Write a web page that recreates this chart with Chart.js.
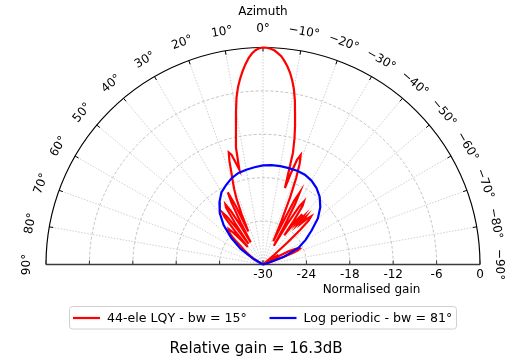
<!DOCTYPE html>
<html>
<head>
<meta charset="utf-8">
<script src="https://cdn.jsdelivr.net/npm/chart.js@4"></script>
<style>
  html, body { margin: 0; padding: 0; background: #fff; }
</style>
</head>
<body>
<canvas id="chart" width="520" height="359"></canvas>
<script>
// azimuth in degrees, positive to the left; gain in dB normalised to the yagi peak
var yagiStart = -90; // 1 degree steps
var yagiGain = [
  -36, -35, -34, -33.5, -33, -32.5, -32, -31.8, -31.5, -31.5,
  -31.2, -31, -31, -30.8, -30.5, -30.6, -31, -31.5, -31, -29,
  -27, -25.6, -24.8, -24.5, -24.5, -24.7, -25.2, -26, -27.5, -30,
  -31, -28.5, -27.5, -28.5, -31, -32, -30.5, -29, -29.5, -31,
  -30.5, -28, -25.5, -23, -21.2, -20.6, -21.2, -22.2, -21.2, -22.6,
  -21.4, -22.6, -21.2, -22.5, -25, -22.5, -20.2, -19.6, -20.5, -23.5,
  -27, -24, -20.5, -18.8, -20.2, -24, -26.5, -23.5, -20, -17.2,
  -15.2, -14, -14.8, -16.8, -19, -14, -12, -10.3, -8.7, -6.9,
  -5.4, -4.2, -3.2, -2.4, -1.7, -1.1, -0.7, -0.35, -0.15, -0.03,
  0,
  -0.1, -0.35, -0.8, -1.4, -2.2, -3.1, -4.1, -5.2, -6.6, -8.5,
  -10.4, -12, -13.4, -16.5, -15.4, -14.2, -13.8, -15, -16.6, -17.8,
  -18.9, -20.3, -22.4, -25, -21, -18.9, -20.4, -23.5, -26.5, -24,
  -21.4, -20.2, -20.6, -23, -26.5, -24, -21.8, -20.9, -21.6, -24,
  -26.8, -25.5, -24, -23.2, -23.4, -23.1, -23.8, -24.3, -25, -25.8,
  -26.3, -26.6, -26.9, -27.2, -27.5, -27.9, -28.3, -28.7, -29.1, -29.5,
  -29.9, -30.3, -30.8, -31.2, -31.5, -31.8, -32.2, -32.5, -32.8, -33,
  -33.2, -33.5, -33.8, -34, -34.2, -34.5, -34.8, -35, -35.3, -35.5,
  -35.8, -36, -36.3, -36.5, -36.8, -37, -37.3, -37.5, -37.8, -38
];

var lpdaAzimuth = [-90, -85, -80, -75, -70, -65, -60, -55, -50, -45, -40, -35, -30, -25, -20, -15, -10, -5,
  0, 5, 10, 15, 20, 25, 30, 35, 40, 45, 50, 55, 60, 65, 70, 75, 80, 85, 90];
var lpdaGain = [-36, -34, -32, -29.5, -27, -24.6, -23.2, -21.8, -20.1, -18.8, -17.8, -17.1, -16.6, -16.3, -16.2, -16.2, -16.2, -16.2,
  -16.3, -16.5, -16.7, -16.9, -17.3, -17.9, -18.5, -19.5, -20.7, -22.3, -24.3, -26.2, -28.5, -31, -33, -34, -35, -36, -37];

var gainTicks = [-30, -24, -18, -12, -6, 0];
var azimuthTicks = [90, 80, 70, 60, 50, 40, 30, 20, 10, 0, -10, -20, -30, -40, -50, -60, -70, -80, -90];

var seriesNames = ["44-ele LQY - bw = 15\u00b0", "Log periodic - bw = 81\u00b0"];
var seriesColors = ["#ff0000", "#0000ff"];
var relativeGain = "Relative gain = 16.3dB";

var FONT = '"DejaVu Sans", "Liberation Sans", sans-serif';
var rMin = -30;

// polar (azimuth, gain) -> x/y in the chart's value space
function toXY(angles, gains) {
  return gains.map(function (g, i) {
    var r = Math.max(0, g - rMin);
    var t = angles[i] * Math.PI / 180;
    return {x: -r * Math.sin(t), y: r * Math.cos(t)};
  });
}

var yagiAzimuth = yagiGain.map(function (g, i) { return yagiStart + i; });

function degLabel(a) {
  return (a < 0 ? "\u2212" + Math.abs(a) : "" + a) + "\u00b0";
}

var polarGrid = {
  id: "polarGrid",
  beforeDatasetsDraw: function (chart) {
    var ctx = chart.ctx;
    var xs = chart.scales.x, ys = chart.scales.y;
    var cx = xs.getPixelForValue(0), cy = ys.getPixelForValue(0);
    var R = xs.getPixelForValue(-rMin) - cx;
    ctx.save();

    // gain circles
    ctx.strokeStyle = "#b4b4b4";
    ctx.lineWidth = 0.8;
    ctx.setLineDash([3, 2]);
    gainTicks.forEach(function (g) {
      if (g === rMin || g === 0) return;
      var r = (g - rMin) / -rMin * R;
      ctx.beginPath();
      ctx.arc(cx, cy, r, Math.PI, 2 * Math.PI);
      ctx.stroke();
    });

    // azimuth spokes
    ctx.strokeStyle = "#c4c4c4";
    ctx.setLineDash([1.5, 1.5]);
    azimuthTicks.forEach(function (a) {
      if (Math.abs(a) === 90) return;
      var t = a * Math.PI / 180;
      ctx.beginPath();
      ctx.moveTo(cx, cy);
      ctx.lineTo(cx - R * Math.sin(t), cy - R * Math.cos(t));
      ctx.stroke();
    });
    ctx.setLineDash([]);

    // outer arc and its ticks
    ctx.strokeStyle = "#000";
    ctx.lineWidth = 1.2;
    ctx.beginPath();
    ctx.arc(cx, cy, R, Math.PI, 2 * Math.PI);
    ctx.stroke();
    ctx.lineWidth = 1;
    azimuthTicks.forEach(function (a) {
      var t = a * Math.PI / 180;
      var s = Math.sin(t), c = Math.cos(t);
      ctx.beginPath();
      ctx.moveTo(cx - R * s, cy - R * c);
      ctx.lineTo(cx - (R - 4) * s, cy - (R - 4) * c);
      ctx.stroke();
    });

    // baseline with radial ticks
    ctx.strokeStyle = "#3a3a3a";
    ctx.lineWidth = 1.6;
    ctx.beginPath();
    ctx.moveTo(cx - R, cy);
    ctx.lineTo(cx + R, cy);
    ctx.stroke();
    ctx.lineWidth = 1;
    gainTicks.forEach(function (g) {
      var r = (g - rMin) / -rMin * R;
      [-1, 1].forEach(function (side) {
        ctx.beginPath();
        ctx.moveTo(cx + side * r, cy);
        ctx.lineTo(cx + side * r, cy - 4);
        ctx.stroke();
      });
    });
    ctx.restore();
  },
  afterDraw: function (chart) {
    var ctx = chart.ctx;
    var xs = chart.scales.x, ys = chart.scales.y;
    var cx = xs.getPixelForValue(0), cy = ys.getPixelForValue(0);
    var R = xs.getPixelForValue(-rMin) - cx;
    ctx.save();
    ctx.fillStyle = "#000";
    ctx.font = "12px " + FONT;
    ctx.textAlign = "center";
    ctx.textBaseline = "middle";

    // azimuth labels, turned along the arc
    azimuthTicks.forEach(function (a) {
      var t = a * Math.PI / 180;
      var rr = R + 19;
      ctx.save();
      ctx.translate(cx - rr * Math.sin(t), cy - rr * Math.cos(t));
      ctx.rotate(-t);
      ctx.fillText(degLabel(a), 0, 0);
      ctx.restore();
    });

    // gain labels on the right half of the baseline
    gainTicks.forEach(function (g) {
      var r = (g - rMin) / -rMin * R;
      ctx.fillText("" + g, cx + r, cy + 10);
    });

    ctx.fillText("Azimuth", cx, 12);
    ctx.fillText("Normalised gain", cx + R / 2, cy + 25);

    // legend box
    var bx = 69.5, by = 306.5, bw = 387, bh = 22.5;
    ctx.strokeStyle = "#d0d0d0";
    ctx.lineWidth = 1;
    ctx.beginPath();
    ctx.roundRect(bx, by, bw, bh, 3);
    ctx.fillStyle = "rgba(255,255,255,0.9)";
    ctx.fill();
    ctx.stroke();
    var items = [{x: 73}, {x: 269.5}];
    ctx.textAlign = "left";
    ctx.font = "12.6px " + FONT;
    items.forEach(function (it, i) {
      ctx.strokeStyle = seriesColors[i];
      ctx.lineWidth = 2.2;
      ctx.beginPath();
      ctx.moveTo(it.x, by + 11.5);
      ctx.lineTo(it.x + 27, by + 11.5);
      ctx.stroke();
      ctx.fillStyle = "#000";
      ctx.fillText(seriesNames[i], it.x + 34, by + 12);
    });

    ctx.textAlign = "center";
    ctx.font = "15px " + FONT;
    ctx.fillText(relativeGain, cx - 7, 349);
    ctx.restore();
  }
};

var ctx = document.getElementById("chart").getContext("2d");
var chart = new Chart(ctx, {
  type: "scatter",
  data: {
    datasets: [
      {
        label: seriesNames[0],
        data: toXY(yagiAzimuth, yagiGain),
        showLine: true,
        borderColor: seriesColors[0],
        backgroundColor: seriesColors[0],
        borderWidth: 2.2,
        pointRadius: 0,
        tension: 0,
        clip: false,
        order: 1
      },
      {
        label: seriesNames[1],
        data: toXY(lpdaAzimuth, lpdaGain),
        showLine: true,
        borderColor: seriesColors[1],
        backgroundColor: seriesColors[1],
        borderWidth: 2.2,
        pointRadius: 0,
        tension: 0,
        clip: false,
        order: 0
      }
    ]
  },
  options: {
    responsive: false,
    animation: false,
    layout: {padding: {left: 46, right: 40, top: 47.5, bottom: 94.5}},
    scales: {
      x: {type: "linear", min: -30, max: 30, display: false},
      y: {type: "linear", min: 0, max: 30, display: false}
    },
    plugins: {
      legend: {display: false},
      tooltip: {enabled: false}
    }
  },
  plugins: [polarGrid]
});
</script>
</body>
</html>
